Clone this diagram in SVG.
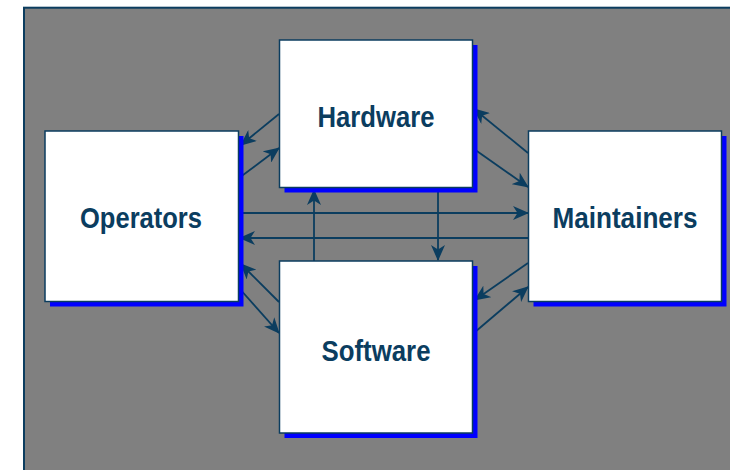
<svg xmlns="http://www.w3.org/2000/svg" width="730" height="470" viewBox="0 0 730 470">
  <style>
    .shadow { fill: #0000ff; }
    .box { fill: #ffffff; stroke: #0b3d5f; stroke-width: 1.5; }
    .label { font-family: "Liberation Sans", Arial, sans-serif; font-weight: bold; font-size: 30px; fill: #0b3d5f; text-anchor: middle; }
    .conn line { stroke: #0b3d5f; stroke-width: 1.8; marker-end: url(#head); }
  </style>
  <defs>
    <marker id="head" viewBox="0 0 16 14" refX="15" refY="7" markerWidth="16" markerHeight="14" markerUnits="userSpaceOnUse" orient="auto">
      <path d="M0,0 L16,7 L0,14 L4.5,7 Z" fill="#0b3d5f"/>
    </marker>
  </defs>

  <!-- page -->
  <rect x="0" y="0" width="730" height="470" fill="#ffffff"/>
  <rect x="24" y="7.7" width="710" height="470" fill="#808080" stroke="#0b3d5f" stroke-width="2"/>

  <!-- connectors -->
  <g id="connectors" class="conn">
    <line x1="279" y1="114" x2="241" y2="145"/>
    <line x1="239" y1="178" x2="279" y2="148"/>
    <line x1="279" y1="302" x2="241" y2="264"/>
    <line x1="239" y1="288" x2="279" y2="333"/>
    <line x1="528" y1="153" x2="474" y2="109"/>
    <line x1="474" y1="149" x2="528" y2="187"/>
    <line x1="528" y1="263" x2="475" y2="300"/>
    <line x1="475" y1="332" x2="528" y2="287"/>
    <line x1="239" y1="213" x2="528" y2="213"/>
    <line x1="528" y1="238" x2="240" y2="238"/>
    <line x1="314" y1="261" x2="314" y2="190"/>
    <line x1="438" y1="188" x2="438" y2="260"/>
  </g>

  <!-- nodes -->
  <g id="hardware">
    <rect class="shadow" x="284.5" y="45" width="193" height="147.5"/>
    <rect class="box" x="279.5" y="40" width="193" height="147.5"/>
    <text class="label" x="376" y="127" textLength="117" lengthAdjust="spacingAndGlyphs">Hardware</text>
  </g>
  <g id="operators">
    <rect class="shadow" x="50" y="136" width="193.5" height="170.5"/>
    <rect class="box" x="45" y="131" width="193.5" height="170.5"/>
    <text class="label" x="141" y="228" textLength="122" lengthAdjust="spacingAndGlyphs">Operators</text>
  </g>
  <g id="maintainers">
    <rect class="shadow" x="533.5" y="136" width="193" height="170.5"/>
    <rect class="box" x="528.5" y="131" width="193" height="170.5"/>
    <text class="label" x="625" y="228" textLength="145" lengthAdjust="spacingAndGlyphs">Maintainers</text>
  </g>
  <g id="software">
    <rect class="shadow" x="284.5" y="266" width="193" height="172"/>
    <rect class="box" x="279.5" y="261" width="193" height="172"/>
    <text class="label" x="376" y="361" textLength="109" lengthAdjust="spacingAndGlyphs">Software</text>
  </g>
</svg>
